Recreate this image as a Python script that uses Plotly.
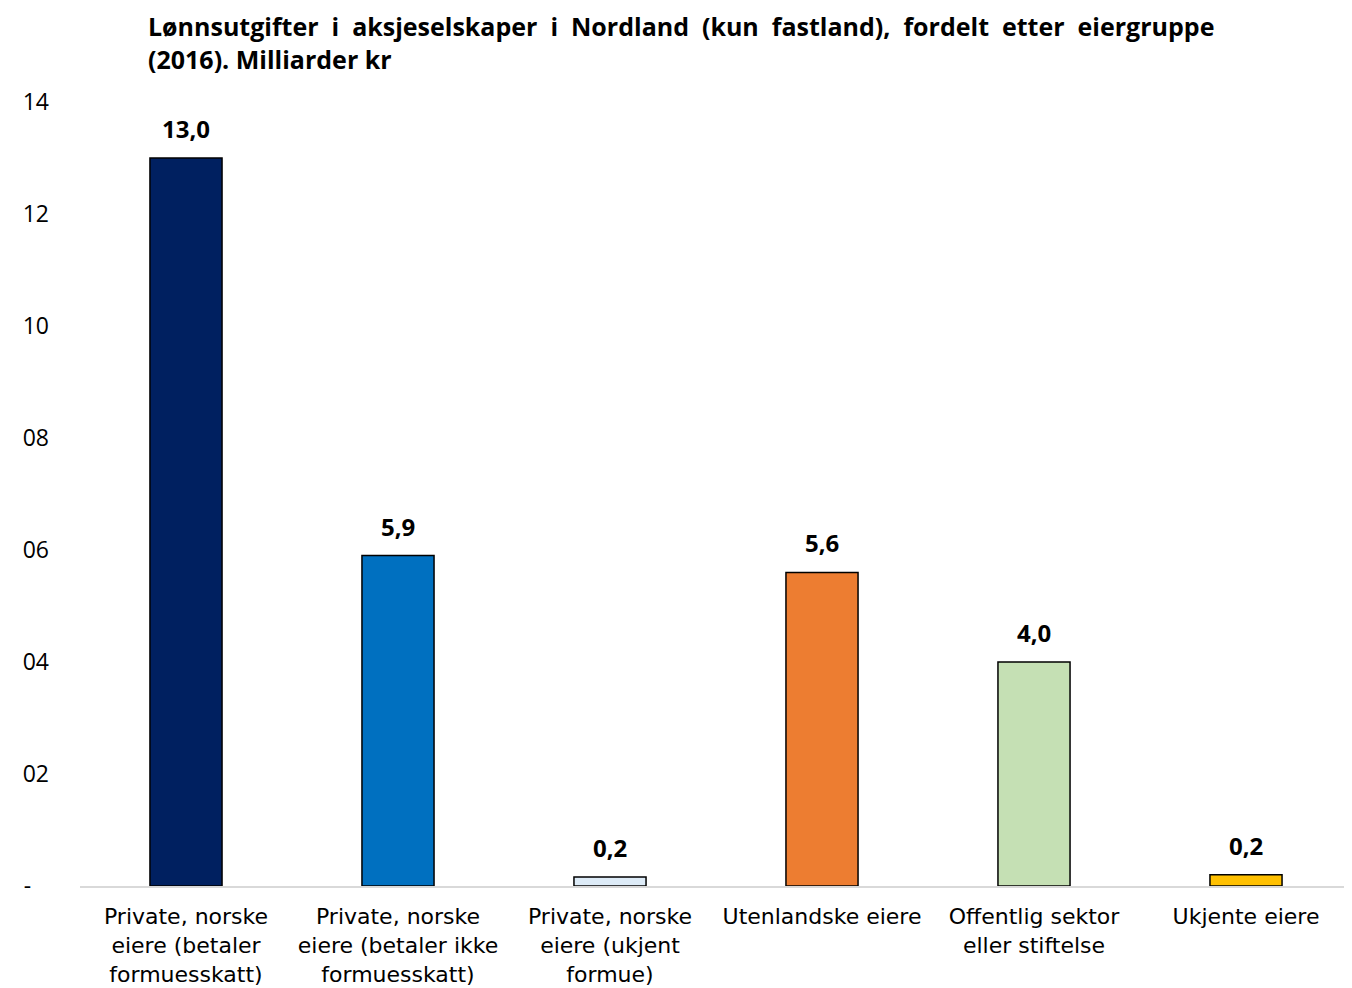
import plotly.graph_objects as go

categories = [
    "Private, norske<br>eiere (betaler<br>formuesskatt)",
    "Private, norske<br>eiere (betaler ikke<br>formuesskatt)",
    "Private, norske<br>eiere (ukjent<br>formue)",
    "Utenlandske eiere",
    "Offentlig sektor<br>eller stiftelse",
    "Ukjente eiere",
]
values = [13.0, 5.9, 0.16, 5.6, 4.0, 0.2]
value_labels = ["13,0", "5,9", "0,2", "5,6", "4,0", "0,2"]
colors = ["#002060", "#0070C0", "#DDEBF7", "#ED7D31", "#C5E0B4", "#FFC000"]
tick_vals = [0, 2, 4, 6, 8, 10, 12, 14]
tick_text = ["-\u00a0\u00a0\u00a0", "02", "04", "06", "08", "10", "12", "14"]

title_line1 = "Lønnsutgifter i aksjeselskaper i Nordland (kun fastland), fordelt etter eiergruppe"
title_line2 = "(2016). Milliarder kr"

FONT = "Open Sans"
LABEL_FONT = "DejaVu Sans"

fig = go.Figure(
    go.Bar(
        x=categories,
        y=values,
        marker=dict(color=colors, line=dict(color="black", width=1.5)),
        cliponaxis=False,
        width=0.34,
        hoverinfo="x+y",
    )
)

for c, v, t in zip(categories, values, value_labels):
    fig.add_annotation(
        x=c, y=v, text="<b>" + t + "</b>", showarrow=False,
        yanchor="bottom", yshift=11,
        font=dict(family=FONT, size=24, color="black"),
    )

# emulate justified first line by widening word gaps
justified = title_line1.replace(" ", "&nbsp; ")
fig.add_annotation(
    xref="paper", yref="paper",
    x=(139 - 72) / 1272, y=1 + 94 / 784,
    xanchor="left", yanchor="top", align="left",
    showarrow=False, borderpad=0,
    text="<b>" + justified + "<br>" + title_line2 + "</b>",
    font=dict(family=FONT, size=25, color="black"),
)

fig.update_layout(
    width=1344,
    height=980,
    paper_bgcolor="white",
    plot_bgcolor="white",
    margin=dict(l=72, r=0, t=94, b=102),
    showlegend=False,
    font=dict(family=FONT, size=22, color="black"),
    xaxis=dict(
        showline=True,
        linecolor="#D9D9D9",
        linewidth=2,
        showgrid=False,
        ticks="",
        ticklabelstandoff=10,
        tickfont=dict(family=LABEL_FONT, size=22, color="black"),
    ),
    yaxis=dict(
        range=[0, 14],
        tickvals=tick_vals,
        ticktext=tick_text,
        showgrid=False,
        zeroline=False,
        showline=False,
        ticks="",
        ticklabelstandoff=30,
        tickfont=dict(family=FONT, size=23, color="black"),
    ),
)

fig.write_html("out.html")
